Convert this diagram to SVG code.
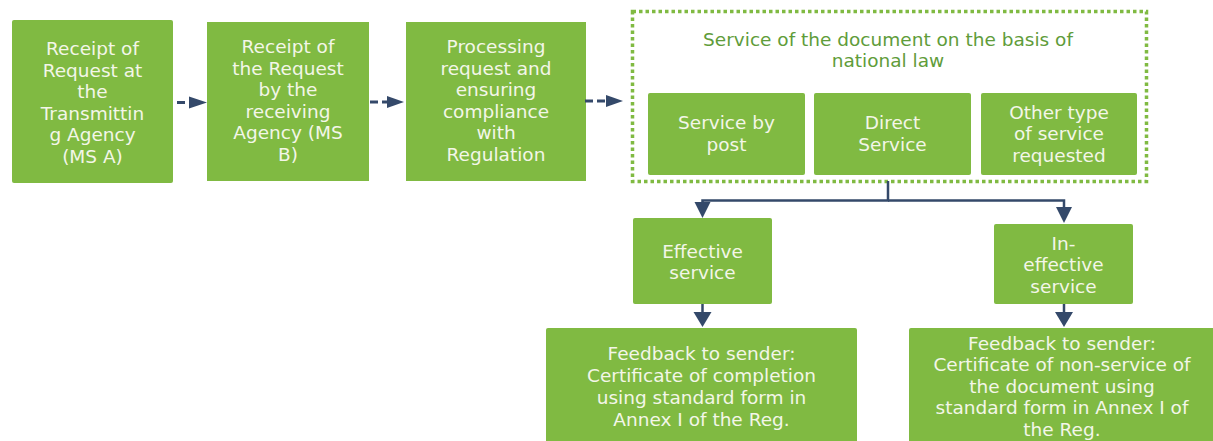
<svg xmlns="http://www.w3.org/2000/svg" width="1213" height="441" viewBox="0 0 1213 441">
<style>
.box{fill:#80ba42;}
.t{font-family:"DejaVu Sans","Liberation Sans",sans-serif;font-size:18.5px;fill:#f3f6e8;text-anchor:middle;}
.title{font-family:"DejaVu Sans","Liberation Sans",sans-serif;font-size:18.5px;fill:#609c3a;text-anchor:middle;}
.dash{fill:none;stroke:#34496a;stroke-width:3;stroke-dasharray:8 4;}
.solid{fill:none;stroke:#34496a;stroke-width:2.5;}
.head{fill:#34496a;}
</style>
<rect width="1213" height="441" fill="#ffffff"/>
<g id="n1">
<rect class="box" x="12" y="20" width="161" height="163" rx="2"/>
<text class="t"><tspan x="92.5" y="55">Receipt of</tspan><tspan x="92.5" y="76.5">Request at</tspan><tspan x="92.5" y="98">the</tspan><tspan x="92.5" y="119.5">Transmittin</tspan><tspan x="92.5" y="141">g Agency</tspan><tspan x="92.5" y="162.5">(MS A)</tspan></text>
</g>
<g id="n2">
<rect class="box" x="207" y="22" width="162" height="159"/>
<text class="t"><tspan x="288" y="53">Receipt of</tspan><tspan x="288" y="74.5">the Request</tspan><tspan x="288" y="96">by the</tspan><tspan x="288" y="117.5">receiving</tspan><tspan x="288" y="139">Agency (MS</tspan><tspan x="288" y="160.5">B)</tspan></text>
</g>
<g id="n3">
<rect class="box" x="406" y="22" width="180" height="159"/>
<text class="t"><tspan x="496" y="53">Processing</tspan><tspan x="496" y="74.5">request and</tspan><tspan x="496" y="96">ensuring</tspan><tspan x="496" y="117.5">compliance</tspan><tspan x="496" y="139">with</tspan><tspan x="496" y="160.5">Regulation</tspan></text>
</g>
<g id="group">
<rect x="632.5" y="11.5" width="514" height="170" fill="none" stroke="#80ba42" stroke-width="3.5" stroke-dasharray="3.5 3"/>
<text class="title"><tspan x="888" y="45.5">Service of the document on the basis of</tspan><tspan x="888" y="67">national law</tspan></text>
</g>
<g id="n4">
<rect class="box" x="648" y="93" width="157" height="82" rx="2"/>
<text class="t"><tspan x="726.5" y="129">Service by</tspan><tspan x="726.5" y="150.5">post</tspan></text>
</g>
<g id="n5">
<rect class="box" x="814" y="93" width="157" height="82" rx="2"/>
<text class="t"><tspan x="892.5" y="129">Direct</tspan><tspan x="892.5" y="150.5">Service</tspan></text>
</g>
<g id="n6">
<rect class="box" x="981" y="93" width="156" height="82" rx="2"/>
<text class="t"><tspan x="1059" y="118.5">Other type</tspan><tspan x="1059" y="140">of service</tspan><tspan x="1059" y="161.5">requested</tspan></text>
</g>
<g id="n7">
<rect class="box" x="633" y="218" width="139" height="86" rx="2"/>
<text class="t"><tspan x="702.5" y="257.5">Effective</tspan><tspan x="702.5" y="279">service</tspan></text>
</g>
<g id="n8">
<rect class="box" x="994" y="224" width="139" height="80" rx="2"/>
<text class="t"><tspan x="1063.5" y="249.5">In-</tspan><tspan x="1063.5" y="271">effective</tspan><tspan x="1063.5" y="292.5">service</tspan></text>
</g>
<g id="n9">
<rect class="box" x="546" y="328" width="311" height="120" rx="2"/>
<text class="t"><tspan x="701.5" y="359.5">Feedback to sender:</tspan><tspan x="701.5" y="381.5">Certificate of completion</tspan><tspan x="701.5" y="403.5">using standard form in</tspan><tspan x="701.5" y="425.5">Annex I of the Reg.</tspan></text>
</g>
<g id="n10">
<rect class="box" x="909" y="328" width="310" height="120" rx="2"/>
<text class="t"><tspan x="1062" y="349.5">Feedback to sender:</tspan><tspan x="1062" y="371">Certificate of non-service of</tspan><tspan x="1062" y="392.5">the document using</tspan><tspan x="1062" y="414">standard form in Annex I of</tspan><tspan x="1062" y="435.5">the Reg.</tspan></text>
</g>
<g id="connectors">
<line class="dash" x1="177" y1="102.5" x2="190" y2="102.5"/>
<polygon class="head" points="189,96.5 207,102.5 189,108.5"/>
<line class="dash" x1="370" y1="102" x2="388" y2="102"/>
<polygon class="head" points="387,96 404,102 387,108"/>
<line class="dash" x1="585" y1="101" x2="607" y2="101"/>
<polygon class="head" points="606,95 623,101 606,107"/>
<polyline class="solid" points="888,181 888,200.5 702.5,200.5 702.5,204"/>
<polygon class="head" points="694.5,202 710.5,202 702.5,218"/>
<polyline class="solid" points="888,200.5 1064,200.5 1064,208"/>
<polygon class="head" points="1056,207 1072,207 1064,223"/>
<line class="solid" x1="702.5" y1="304" x2="702.5" y2="313"/>
<polygon class="head" points="693.5,312 711.5,312 702.5,327"/>
<line class="solid" x1="1064" y1="304" x2="1064" y2="313"/>
<polygon class="head" points="1055,312 1073,312 1064,327"/>
</g>
</svg>
